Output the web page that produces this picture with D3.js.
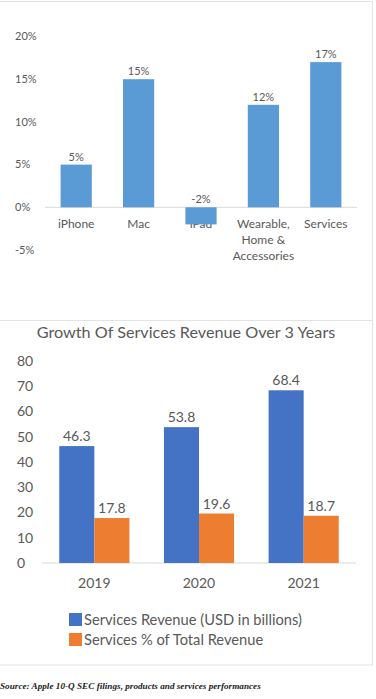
<!DOCTYPE html>
<html>
<head>
<meta charset="utf-8">
<script src="https://cdn.jsdelivr.net/npm/d3@7"></script>
<style>
  body { margin: 0; background: #fff; }
  svg { display: block; }
</style>
</head>
<body>
<svg id="chart" width="376" height="699"></svg>
<script>
// Top chart: growth by product category
const categories = ["iPhone", "Mac", "iPad", "Wearable, Home & Accessories", "Services"];
const categoryLines = [["iPhone"], ["Mac"], ["iPad"], ["Wearable,", "Home &", "Accessories"], ["Services"]];
const growth = [5, 15, -2, 12, 17];
const growthTicks = [-5, 0, 5, 10, 15, 20];

// Bottom chart: services revenue
const years = ["2019", "2020", "2021"];
const seriesNames = ["Services Revenue (USD in billions)", "Services % of Total Revenue"];
const revenue = [46.3, 53.8, 68.4];
const share = [17.8, 19.6, 18.7];
const revenueTicks = [0, 10, 20, 30, 40, 50, 60, 70, 80];

const textColor = "#595959";
const font = "Lato, 'Open Sans', sans-serif";

const svg = d3.select("#chart");

// panel borders
svg.append("rect")
    .attr("x", -1).attr("y", 1.5)
    .attr("width", 373.5).attr("height", 663.5)
    .attr("fill", "none").attr("stroke", "#e3e3e3");
svg.append("line")
    .attr("x1", 0).attr("x2", 372.5)
    .attr("y1", 320.5).attr("y2", 320.5)
    .attr("stroke", "#e3e3e3");

// ---------- top chart ----------
const x1 = d3.scaleBand()
    .domain(categories)
    .range([45, 357])
    .paddingInner(0.5)
    .paddingOuter(0.25);

const y1 = d3.scaleLinear()
    .domain([-5, 20])
    .range([250, 36.5]);

const upper = svg.append("g");

upper.selectAll(".tick1")
    .data(growthTicks)
    .enter()
    .append("text")
    .attr("x", 15)
    .attr("y", d => y1(d))
    .attr("dy", "0.35em")
    .attr("font-family", font)
    .attr("font-size", 11)
    .attr("fill", textColor)
    .text(d => d + "%");

upper.append("line")
    .attr("x1", 45).attr("x2", 357)
    .attr("y1", y1(0)).attr("y2", y1(0))
    .attr("stroke", "#d9d9d9");

// category labels drawn before bars (iPad label sits under its bar)
const catText = upper.selectAll(".cat")
    .data(categories)
    .enter()
    .append("text")
    .attr("text-anchor", "middle")
    .attr("font-family", font)
    .attr("font-size", 12)
    .attr("fill", textColor);

catText.each(function(d, i) {
    d3.select(this).selectAll("tspan")
        .data(categoryLines[i])
        .enter()
        .append("tspan")
        .attr("x", x1(d) + x1.bandwidth() / 2)
        .attr("y", (l, j) => 228 + j * 16)
        .text(l => l);
});

upper.selectAll(".bar1")
    .data(growth)
    .enter()
    .append("rect")
    .attr("x", (d, i) => x1(categories[i]))
    .attr("y", d => y1(Math.max(0, d)))
    .attr("width", x1.bandwidth())
    .attr("height", d => Math.abs(y1(d) - y1(0)))
    .attr("fill", "#5b9bd5");

upper.selectAll(".val1")
    .data(growth)
    .enter()
    .append("text")
    .attr("x", (d, i) => x1(categories[i]) + x1.bandwidth() / 2)
    .attr("y", d => y1(Math.max(0, d)) - 4)
    .attr("text-anchor", "middle")
    .attr("font-family", font)
    .attr("font-size", 11)
    .attr("fill", textColor)
    .text(d => d + "%");

// ---------- bottom chart ----------
const lower = svg.append("g");

lower.append("text")
    .attr("x", 186)
    .attr("y", 338)
    .attr("text-anchor", "middle")
    .attr("font-family", font)
    .attr("font-size", 16.2)
    .attr("fill", textColor)
    .text("Growth Of Services Revenue Over 3 Years");

const x2 = d3.scaleBand()
    .domain(years)
    .range([42, 356])
    .paddingInner(0.33)
    .paddingOuter(0.165);

const xs = d3.scaleBand()
    .domain(seriesNames)
    .range([0, x2.bandwidth()]);

const y2 = d3.scaleLinear()
    .domain([0, 80])
    .range([563, 361]);

const colors = d3.scaleOrdinal()
    .domain(seriesNames)
    .range(["#4472c4", "#ed7d31"]);

lower.selectAll(".tick2")
    .data(revenueTicks)
    .enter()
    .append("text")
    .attr("x", 17)
    .attr("y", d => y2(d))
    .attr("dy", "0.35em")
    .attr("font-family", font)
    .attr("font-size", 14)
    .attr("fill", textColor)
    .text(d => d);

lower.append("line")
    .attr("x1", 42).attr("x2", 356)
    .attr("y1", y2(0)).attr("y2", y2(0))
    .attr("stroke", "#d9d9d9");

const seriesValues = [revenue, share];

seriesValues.forEach((vals, s) => {
    const name = seriesNames[s];
    lower.selectAll(".bar2-" + s)
        .data(vals)
        .enter()
        .append("rect")
        .attr("x", (d, i) => x2(years[i]) + xs(name))
        .attr("y", d => y2(d))
        .attr("width", xs.bandwidth())
        .attr("height", d => y2(0) - y2(d))
        .attr("fill", colors(name));

    lower.selectAll(".val2-" + s)
        .data(vals)
        .enter()
        .append("text")
        .attr("x", (d, i) => x2(years[i]) + xs(name) + xs.bandwidth() / 2)
        .attr("y", d => y2(d) - 5)
        .attr("text-anchor", "middle")
        .attr("font-family", font)
        .attr("font-size", 14)
        .attr("fill", textColor)
        .text(d => d.toFixed(1));
});

lower.selectAll(".year")
    .data(years)
    .enter()
    .append("text")
    .attr("x", d => x2(d) + x2.bandwidth() / 2)
    .attr("y", 588)
    .attr("text-anchor", "middle")
    .attr("font-family", font)
    .attr("font-size", 14)
    .attr("fill", textColor)
    .text(d => d);

const legend = lower.selectAll(".legend")
    .data(seriesNames)
    .enter()
    .append("g")
    .attr("transform", (d, i) => `translate(69,${613 + i * 20})`);

legend.append("rect")
    .attr("width", 13)
    .attr("height", 13)
    .attr("fill", d => colors(d));

legend.append("text")
    .attr("x", 15)
    .attr("y", 7)
    .attr("dy", "0.35em")
    .attr("font-family", font)
    .attr("font-size", 14.7)
    .attr("fill", textColor)
    .text(d => d);

// source note
svg.append("text")
    .attr("x", 0)
    .attr("y", 689)
    .attr("font-family", "'Liberation Serif', serif")
    .attr("font-style", "italic")
    .attr("font-weight", "bold")
    .attr("font-size", 9.2)
    .attr("fill", "#222")
    .text("Source: Apple 10-Q SEC filings, products and services performances");
</script>
</body>
</html>
